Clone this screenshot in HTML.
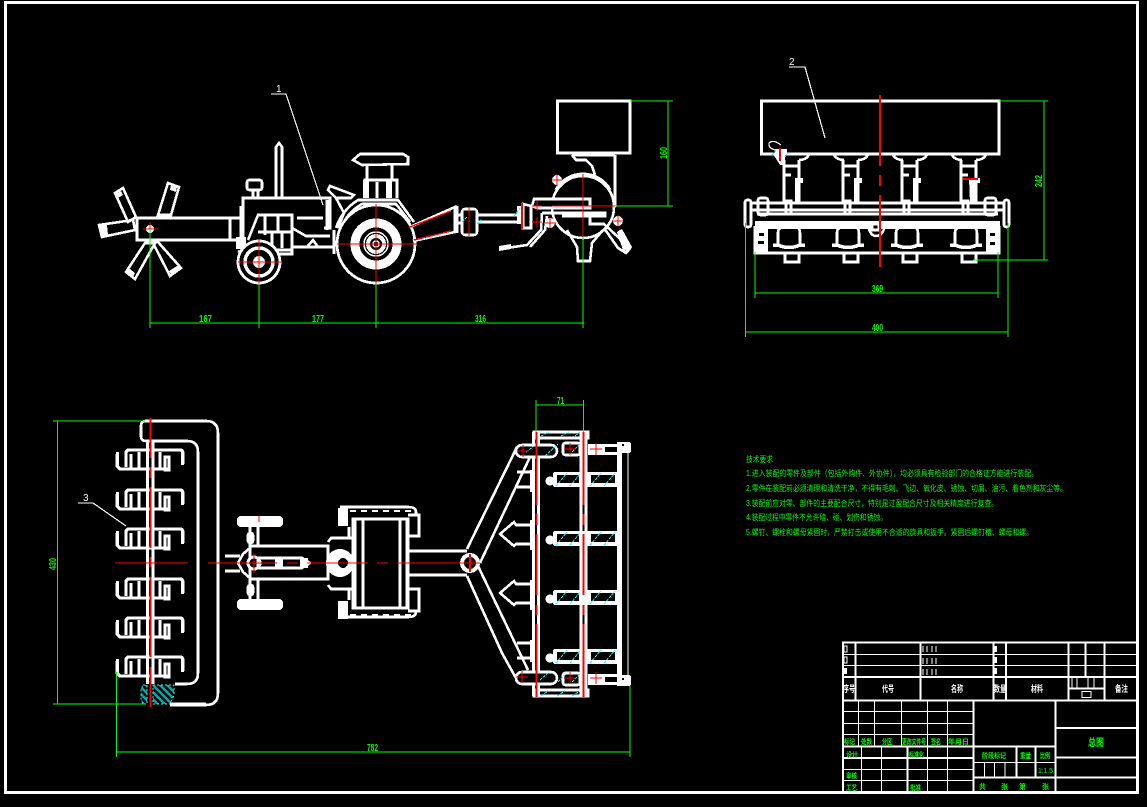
<!DOCTYPE html>
<html><head><meta charset="utf-8"><title>总图</title>
<style>
html,body{margin:0;padding:0;background:#000;width:1147px;height:807px;overflow:hidden}
svg{display:block}
text{font-family:"Liberation Sans","Noto Sans CJK SC",sans-serif}
.w{fill:none;stroke:#fff;stroke-width:2.6}
.t{fill:none;stroke:#fff;stroke-width:1.2}
.f{fill:#fff;stroke:none}
.k{fill:#000;stroke:#fff;stroke-width:2.6}
.r{fill:none;stroke:#f00;stroke-width:1.4}
.R{fill:none;stroke:#f00;stroke-width:2}
.g{fill:none;stroke:#0f0;stroke-width:1.2}
.c{fill:none;stroke:#0ff;stroke-width:1;stroke-dasharray:3 1}
.gt{fill:#0f0;font-size:10px;font-weight:bold}
.tt{fill:#0f0;font-size:8px}
.bt{fill:#0f0;font-size:7px;font-weight:bold}
.wt{fill:#fff;font-size:9px;font-weight:bold}
</style></head><body>
<svg width="1147" height="807" viewBox="0 0 1147 807" xmlns="http://www.w3.org/2000/svg" shape-rendering="crispEdges">
<defs>
<g id="tine">
<path class="w" style="stroke-width:3.2" d="M117 6V18L120 21H170"/>
<path class="w" style="stroke-width:3.2" d="M126 19V4L128 2H180Q183 2 183 6V16"/>
<path class="w" d="M131 6V20M139 4V20M160 4V21"/>
<rect class="w" x="165" y="9" width="4" height="13"/>
<path class="f" d="M116 4h3v14h-3zM181 3h3v14h-3z"/>
</g>
<g id="col">
<path class="w" d="M-17 155Q-14 160-7 160M17 155Q14 160 7 160M-8 160V204M7 160V204M-8 166H7M-8 175H-1"/>
<path class="f" d="M3 178h8v5h-3v20h-5z"/>
<rect class="k" x="-6" y="201" width="5" height="13"/>
<path class="w" d="M-14 246V233Q-14 227-8 227H2Q8 227 8 233V246"/>
<path class="w" style="stroke-width:3.5" d="M-19 245H-14Q-3 250 8 245H13"/>
<rect class="w" x="-7" y="253" width="14" height="9"/>
</g>
<g id="bar">
<rect class="f" x="553" y="0" width="68" height="15" rx="2"/>
<circle class="f" cx="550" cy="9" r="4.5"/>
<rect x="557" y="3" width="22" height="8" fill="#000"/>
<rect x="591" y="3" width="24" height="8" fill="#000"/>
<path class="c" d="M556 14L567 1M570 14L580 2M590 14L601 1M604 14L615 1"/>
</g>
<pattern id="h" width="5" height="5" patternUnits="userSpaceOnUse" patternTransform="rotate(45)"><rect width="5" height="5" fill="#000"/><rect width="5" height="2.5" fill="#0aa"/></pattern>
</defs>
<rect width="1147" height="807" fill="#000"/>
<!-- frame -->
<rect x="5.5" y="2.5" width="1132" height="790" fill="none" stroke="#fff" stroke-width="2.8"/>

<!-- ======= side view: implement star ======= -->
<path class="w" d="M115 193L123 188L136 217L128 222Z"/>
<path class="w" d="M168 183L179 187L171 215L158 215Z"/>
<path class="w" d="M99 225L133 220L135 230L102 237Z"/>
<path class="w" d="M126 272L135 279L155 243L145 243Z"/>
<path class="w" d="M153 243L170 276L181 268L158 242Z"/>
<path class="f" d="M116 194l5-3 2 4-5 3zM171 185l6 2-1 5-6-2zM100 226l7-1 1 10-7 1zM171 274l8-6-2-2-8 5zM127 271l6 6 2-4-5-4z"/>
<rect class="k" x="137" y="218" width="104" height="22"/>
<path class="w" d="M230 218V240"/>
<circle class="f" cx="150" cy="229" r="4"/>
<!-- tractor body -->
<path class="w" d="M243 240V198H330V228H324M241 206V222M297 218H323M327 200V230"/>
<path class="f" d="M236 237h10v12h-10z"/>
<path class="w" d="M276 198V147L279 143L282 147V198"/>
<rect class="w" x="247" y="180" width="15" height="10" rx="2"/>
<path class="w" d="M253 190V198M258 190V198"/>
<path class="w" d="M248 240L258 215H292V250H264M265 215V235M258 232H292M278 215V232M272 232V248M282 232V248"/>
<path class="w" d="M292 247H333M292 228L306 236H330M307 247L313 240L318 247"/>
<path class="w" style="stroke-width:3" d="M334 230V254"/>
<path class="w" d="M238 251L246 254H292V240"/>
<!-- fender -->
<path class="w" d="M336 228Q342 210 358 200H398L414 222"/>
<path class="w" d="M342 226Q348 212 362 204H396L410 222"/>
<path class="w" d="M330 186L354 195L351 198L336 198L328 190Z"/>
<path class="w" d="M336 198L344 213L338 228"/>
<path class="w" d="M353 160L360 154H403L408 157V164L362 165Z"/>
<path class="w" d="M367 165V181M392 165V181M365 198V180H397V198M377 182V198"/>
<rect class="f" x="363" y="180" width="6" height="18"/><rect class="f" x="386" y="180" width="6" height="18"/>
<!-- rear wheel -->
<circle cx="376" cy="244" r="39" fill="#000" stroke="#fff" stroke-width="2.8"/>
<circle cx="376" cy="244" r="21" fill="none" stroke="#fff" stroke-width="9"/>
<circle cx="376" cy="244" r="12" fill="#000" stroke="#fff" stroke-width="1.5"/>
<circle cx="376" cy="244" r="8" fill="none" stroke="#fff" stroke-width="4"/>
<circle cx="376" cy="244" r="3" fill="none" stroke="#fff" stroke-width="1.5"/>
<!-- front wheel -->
<circle cx="259" cy="262" r="21" fill="#000" stroke="#fff" stroke-width="2.8"/>
<circle cx="259" cy="262" r="14" fill="none" stroke="#fff" stroke-width="3.5"/>
<circle cx="259" cy="262" r="6" class="f"/>
<!-- hitch -->
<path class="w" d="M410 227L455 207V232L413 241"/>
<path class="w" d="M457 206V233"/>
<rect class="w" x="462" y="209" width="15" height="26" rx="3"/>
<path class="w" d="M456 215H462M456 223H462M477 215H518M477 222H518"/>
<path class="w" d="M519 206V224M523 204V228H531V206Z"/>
<path class="f" d="M517 206h6v18h-6z"/>
<!-- seeder side -->
<rect class="k" x="557.5" y="101" width="72.5" height="52"/>
<path class="w" d="M572 155L576 160H586L592 166L595 175M572 155H615M615 155V207"/>
<circle cx="583" cy="207" r="31" fill="none" stroke="#fff" stroke-width="2.6"/>
<path class="w" style="stroke-width:3.4" d="M556 190A31 31 0 0 1 610 190"/>
<path class="w" d="M567 230L577 247L578 261H590L592 243L603 230"/>
<path class="k" d="M534 199H590V208H537L532 206Z" style="fill:#000"/>
<path class="w" d="M542 213L541 230L527 245L500 249"/>
<path class="w" d="M542 213H605V216H562M547 216L545 230L530 247"/>
<path class="w" d="M590 216V224L604 224L618 237L630 250"/>
<path class="w" d="M604 228L618 248L626 253L630 248L620 230" />
<path class="f" d="M499 246l12-2v5l-12 2z"/>
<path class="f" d="M617 232l5-3 10 18-3 5-6-2z"/>
<circle class="f" cx="557" cy="180" r="5"/><circle class="f" cx="618" cy="221" r="5"/><circle class="f" cx="550" cy="223" r="5"/>
<path class="c" d="M462 222L467 217M477 224L481 220M514 216L520 208"/>
<!-- side view red -->
<path class="r" d="M143 229H158M150 222V240M238 262H282M259 239V283M337 244H417M376 204V284M410 227L451 211M414 240L451 231M469 207V236M552 206H615M583 174V237M532 206H542M537 201V211M532 222H542M537 217V227M545 223H556M550 218V228M552 180H562M557 174V186M612 221H623M618 215V227"/>
<path class="R" d="M522 203V229"/>
<!-- side dims -->
<path class="g" d="M150 229V328M259 283V328M376 284V328M583 237V328M150 323H584M630 101H673M615 206H673M668 101V206"/>
<text class="gt" x="199" y="322" textLength="13" lengthAdjust="spacingAndGlyphs">167</text>
<text class="gt" x="312" y="322" textLength="12" lengthAdjust="spacingAndGlyphs">177</text>
<text class="gt" x="475" y="322" textLength="11" lengthAdjust="spacingAndGlyphs">316</text>
<text class="gt" transform="translate(667,159) rotate(-90)" textLength="12" lengthAdjust="spacingAndGlyphs">160</text>

<!-- ======= front view ======= -->
<rect class="k" x="761.5" y="101" width="237.5" height="53"/>
<use href="#col" x="792"/><use href="#col" x="851"/><use href="#col" x="910"/><use href="#col" x="969"/>
<path class="w" d="M752 203H1003M752 210H1003"/>
<rect x="758" y="215" width="240" height="5" fill="#000"/>
<path class="w" d="M757 214H998"/>
<path class="f" d="M755 221H1000V229H755z"/>
<rect class="w" x="745" y="200" width="6" height="27" rx="2"/>
<rect class="w" x="1004" y="200" width="5" height="27" rx="2"/>
<rect class="w" x="758" y="198" width="10" height="17" rx="2"/>
<rect class="w" x="985" y="198" width="11" height="17" rx="2"/>
<path class="w" d="M755 226V253H999V226"/>
<rect class="f" x="755" y="228" width="13" height="24"/>
<rect class="f" x="986" y="228" width="13" height="24"/>
<rect x="759" y="233" width="5" height="3" fill="#000"/><rect x="758" y="241" width="6" height="3" fill="#000"/><rect x="990" y="233" width="5" height="3" fill="#000"/><rect x="990" y="242" width="5" height="3" fill="#000"/>
<path class="w" d="M868 225Q870 236 876 236Q883 236 885 225"/>
<rect class="k" x="872" y="224" width="7" height="6"/>
<path class="t" d="M781 145Q773 139 769 143Q768 148 775 150"/>
<path class="f" d="M775 149h12v5h-2v11h-5l-5-8z"/>
<path class="c" d="M772 155L777 149M785 157L788 153"/>
<path class="f" d="M969 178h8v5h-2v20h-5z"/>
<path class="R" d="M880 95V166M880 175V186M880 195V267M780 148V161M963 179H978"/>
<path class="g" d="M999 101H1048M1044 101V260M973 260H1048M755 252V298M998 252V298M755 293H998M745.500 223V337M1008 223V337M745 332H1008"/>
<text class="gt" transform="translate(1042,187) rotate(-90)" textLength="12" lengthAdjust="spacingAndGlyphs">242</text>
<text class="gt" x="872" y="292" textLength="11" lengthAdjust="spacingAndGlyphs">369</text>
<text class="gt" x="872" y="331" textLength="11" lengthAdjust="spacingAndGlyphs">400</text>

<!-- ======= plan view left ======= -->
<path class="w" d="M150 421H206Q218 421 218 433V693Q218 705 206 705H170"/>
<path class="w" d="M150 421H146Q141 421 141 426V436Q141 441 146 441H187Q198 441 198 452V673Q198 684 187 684H175"/>
<path class="w" d="M147.500 441V684M153 441V684"/>
<use href="#tine" y="448"/><use href="#tine" y="488"/><use href="#tine" y="527"/><use href="#tine" y="577"/><use href="#tine" y="616"/><use href="#tine" y="655"/>
<path fill="url(#h)" stroke="#0ff" stroke-width="1" stroke-dasharray="2 2" d="M153 685H174V695L170 704H153Z"/>
<path fill="url(#h)" stroke="#0ff" stroke-width="1" stroke-dasharray="2 2" d="M143 685H147V704H143L141 700V689Z"/>
<path class="w" d="M170 704H206"/>
<path class="R" d="M150.500 418V458M150.500 467V478M150.500 487V548M150.500 557V567M150.500 577V657M150.500 667V707"/>
<path class="g" d="M53 421H145M53 704H145M57.500 421V704M116.500 672V757M116 752H630M630 680V757"/>
<text class="gt" transform="translate(56,570) rotate(-90)" textLength="12" lengthAdjust="spacingAndGlyphs">430</text>
<text class="gt" x="367" y="751" textLength="11" lengthAdjust="spacingAndGlyphs">782</text>

<!-- tractor plan -->
<rect class="f" x="237" y="516" width="46" height="11" rx="4"/>
<rect class="f" x="237" y="599" width="46" height="11" rx="4"/>
<path class="w" d="M250 527V546M258 527V546M250 579V599M258 579V599"/>
<rect class="w" x="248" y="533" width="5" height="10" rx="2"/><rect class="w" x="248" y="585" width="5" height="10" rx="2"/>
<rect class="k" x="250" y="546" width="78" height="33"/>
<path class="w" d="M250 548L243 554L238 563L243 572L250 578"/>
<circle cx="254" cy="563" r="6" fill="#000" stroke="#fff" stroke-width="3"/>
<path class="w" d="M225 556H240M225 571H240"/>
<path class="w" d="M258 558H302L310 563L302 568H258Z"/>
<path class="f" d="M275 558h8v10h-8zM300 558h8v10h-8z"/>
<path class="w" d="M328 542L331 538H353M328 585L331 589H353M349 527V537M349 589V600"/>
<circle class="f" cx="340" cy="563" r="14"/>
<circle cx="343" cy="563" r="5" fill="#000"/>
<path class="w" d="M340 507H408Q416 507 416 512V514M340 617H408Q416 617 416 612"/>
<path class="f" d="M338 508h10v18h-10zM338 601h10v18h-10z"/>
<path class="c" style="stroke:#fff;stroke-width:2;stroke-dasharray:6 5" d="M350 511H412M350 615H412"/>
<path class="w" d="M408 515H419V536H408M408 589H419V611H408"/>
<rect class="k" x="353" y="519" width="55" height="89"/>
<path class="w" d="M355 519V608M363 519V608M400 519V608M407 519V608"/>
<path class="w" d="M408 551H467M408 575H467"/>
<circle cx="470" cy="563" r="8" fill="#000" stroke="#fff" stroke-width="4"/>
<!-- v-frame -->
<path class="w" d="M467 549L517 447M480 563L530 457M467 576L502 653L517 680M478 566L528 670"/>
<!-- arrows -->
<path class="w" d="M533 525H516L514 522L500 534L514 546L516 544H533M533 584H516L514 581L500 593L514 605L516 603H533"/>
<path class="w" d="M517 472H533M517 487H533M517 643H533M517 658H533"/>
<!-- seeder plan -->
<use href="#bar" y="472"/><use href="#bar" y="531"/><use href="#bar" y="590"/><use href="#bar" y="649"/>
<rect class="w" x="534" y="432" width="54" height="6"/>
<rect class="w" x="534" y="690" width="54" height="6"/>
<path class="w" d="M533.500 432V696M538.500 432V696M581 432V696M586 432V696"/>
<path class="f" d="M530 470h5v22h-5zM530 520h5v30h-5zM530 580h5v30h-5zM530 640h5v22h-5z"/>
<rect class="k" x="516" y="445" width="41" height="12" rx="6"/>
<rect class="k" x="516" y="672" width="41" height="12" rx="6"/>
<rect class="k" x="563" y="443" width="17" height="12" rx="2"/>
<rect class="k" x="563" y="673" width="17" height="12" rx="2"/>
<path class="f" d="M588 444H618V455H588zM588 674H618V685H588z"/>
<rect x="605" y="447" width="12" height="5" fill="#000"/><rect x="605" y="677" width="12" height="5" fill="#000"/>
<path class="f" d="M617 442H622V686H617z"/>
<path class="t" d="M628 445V684M622 445H628"/>
<rect class="f" x="617" y="442" width="14" height="11" rx="2"/>
<rect class="f" x="618" y="675" width="13" height="11" rx="2"/>
<rect x="622" y="444" width="2" height="2" fill="#000"/><rect x="622" y="678" width="2" height="2" fill="#000"/>
<path class="c" d="M526 452L534 446M541 436L549 432M561 436L569 432M575 436L580 432M545 456L558 444M572 452L580 444M541 696L548 691M557 696L565 691M572 696L580 691M540 680L549 672M558 682L566 674M572 682L580 674"/>
<!-- plan red -->
<path class="R" d="M536.500 432V505M536.500 514V525M536.500 534V595M536.500 605V615M536.500 624V697M583.500 432V505M583.500 514V525M583.500 534V595M583.500 605V615M583.500 624V697"/>
<path class="r" d="M115 563H188M208 563H277M287 563H298M307 563H368M377 563H388M397 563H480"/>
<path class="r" d="M259 516V522M254 553V573"/>
<path class="R" d="M470 554V572"/>
<path class="r" d="M517 451H529M523 445V457M564 449H576M570 443V455M590 449H602M596 443V455M516 677H528M522 671V683M564 678H576M570 672V684M590 678H602M596 672V684"/>
<path class="g" d="M536 400V432M583.500 400V432M536 405H584"/>
<text class="gt" x="557" y="404" textLength="7" lengthAdjust="spacingAndGlyphs">71</text>

<!-- leaders (drawn last so they show over the hoppers) -->
<path class="t" d="M271 94H286L323 205M789 67H805L825 138M78 503H93L126 526"/>
<text x="276" y="92" fill="#fff" font-size="10">1</text>
<text x="789" y="65" fill="#fff" font-size="10">2</text>
<text x="83" y="501" fill="#fff" font-size="10">3</text>

<!-- ======= tech requirements ======= -->
<text class="tt" x="746" y="462" textLength="27" lengthAdjust="spacingAndGlyphs">技术要求</text>
<text class="tt" x="746" y="476" textLength="292" lengthAdjust="spacingAndGlyphs">1.进入装配的零件及部件（包括外购件、外协件），均必须具有检验部门的合格证方能进行装配。</text>
<text class="tt" x="746" y="491" textLength="321" lengthAdjust="spacingAndGlyphs">2.零件在装配前必须清理和清洗干净，不得有毛刺、飞边、氧化皮、锈蚀、切屑、油污、着色剂和灰尘等。</text>
<text class="tt" x="746" y="506" textLength="252" lengthAdjust="spacingAndGlyphs">3.装配前应对零、部件的主要配合尺寸，特别是过盈配合尺寸及相关精度进行复查。</text>
<text class="tt" x="746" y="520" textLength="141" lengthAdjust="spacingAndGlyphs">4.装配过程中零件不允许磕、碰、划伤和锈蚀。</text>
<text class="tt" x="746" y="535" textLength="287" lengthAdjust="spacingAndGlyphs">5.螺钉、螺栓和螺母紧固时，严禁打击或使用不合适的旋具和扳手。紧固后螺钉槽、螺母和螺。</text>

<!-- ======= title block ======= -->
<g fill="none" stroke="#fff">
<path stroke-width="2.4" d="M842 642.500H1137M842 677H1137M842 700.500H1137M843 642V793M855.500 642V700M920.500 642V700M993.500 642V700M1006 642V700M1068.500 642V700M1104.500 642V700M1085.500 642V677"/>
<path stroke-width="1.2" d="M843 654.500H1137M843 665.500H1137"/>
<path stroke-width="2" d="M1069 688.500H1104"/>
<path stroke-width="1.2" d="M1072 678V688M1077 678V688M1088 678V688M1094 678V688M923 646V652M927 646V652M932 646V652M936 646V652M923 658V664M927 658V664M932 658V664M936 658V664M923 669V675M927 669V675M932 669V675M936 669V675"/>
<rect x="1082" y="691.500" width="9" height="6" stroke-width="1"/>
<path stroke-width="1.2" d="M843 711.500H973M843 723.500H973M843 734.500H973M843 769.500H973M843 780.500H973M858.500 700V746M874.500 700V746M901.500 700V746M927.500 700V792M947.500 700V792M861.500 746V792M881.500 746V792"/>
<path stroke-width="2.2" d="M843 746.500H1055M843 758H973M907.500 746V792M973.500 700V792M1055.500 700V792M1055 728H1137M1055 757.500H1137M1055 777.500H1137M973 777.500H1055M1016.500 746V777M1035.500 746V777"/>
<path stroke-width="1.2" d="M973 762.500H1055M984.500 762V777M994.500 762V777M1005 762V777"/>
</g>
<rect x="844" y="646" width="3" height="6" fill="#000" stroke="#fff"/><rect x="844" y="657" width="3" height="6" fill="#000" stroke="#fff"/>
<rect x="844" y="668" width="3" height="6" fill="#fff"/><rect x="994" y="646" width="3" height="6" fill="#fff"/><rect x="994" y="657" width="3" height="6" fill="#fff"/><rect x="994" y="668" width="3" height="6" fill="#fff"/>
<text class="wt" x="843" y="692" textLength="12" lengthAdjust="spacingAndGlyphs">序号</text>
<text class="wt" x="882" y="692" textLength="12" lengthAdjust="spacingAndGlyphs">代号</text>
<text class="wt" x="951" y="692" textLength="12" lengthAdjust="spacingAndGlyphs">名称</text>
<text class="wt" x="994" y="692" textLength="12" lengthAdjust="spacingAndGlyphs">数量</text>
<text class="wt" x="1031" y="692" textLength="12" lengthAdjust="spacingAndGlyphs">材料</text>
<text class="wt" x="1115" y="692" textLength="13" lengthAdjust="spacingAndGlyphs">备注</text>
<g class="bt">
<text x="844" y="744" textLength="11" lengthAdjust="spacingAndGlyphs">标记</text>
<text x="861" y="744" textLength="11" lengthAdjust="spacingAndGlyphs">处数</text>
<text x="882" y="744" textLength="10" lengthAdjust="spacingAndGlyphs">分区</text>
<text x="902" y="744" textLength="24" lengthAdjust="spacingAndGlyphs">更改文件号</text>
<text x="931" y="744" textLength="10" lengthAdjust="spacingAndGlyphs">签名</text>
<text x="948" y="744" textLength="21" lengthAdjust="spacingAndGlyphs">年月日</text>
<text x="846" y="757" textLength="12" lengthAdjust="spacingAndGlyphs">设计</text>
<text x="909" y="757" textLength="15" lengthAdjust="spacingAndGlyphs">标准化</text>
<text x="846" y="778" textLength="11" lengthAdjust="spacingAndGlyphs">审核</text>
<text x="846" y="790" textLength="11" lengthAdjust="spacingAndGlyphs">工艺</text>
<text x="910" y="790" textLength="11" lengthAdjust="spacingAndGlyphs">批准</text>
<text x="982" y="758" textLength="24" lengthAdjust="spacingAndGlyphs">阶段标记</text>
<text x="1020" y="758" textLength="11" lengthAdjust="spacingAndGlyphs">重量</text>
<text x="1040" y="758" textLength="10" lengthAdjust="spacingAndGlyphs">比例</text>
<text x="1038" y="773" textLength="15" style="font-weight:normal">1:1.5</text>
<text x="979" y="789" font-size="7">共</text><text x="1001" y="789" font-size="7">张</text><text x="1019" y="789" font-size="7">第</text><text x="1042" y="789" font-size="7">张</text>
<text x="1088" y="746" textLength="16" lengthAdjust="spacingAndGlyphs" style="font-size:10px">总图</text>
</g>
</svg>
</body></html>
